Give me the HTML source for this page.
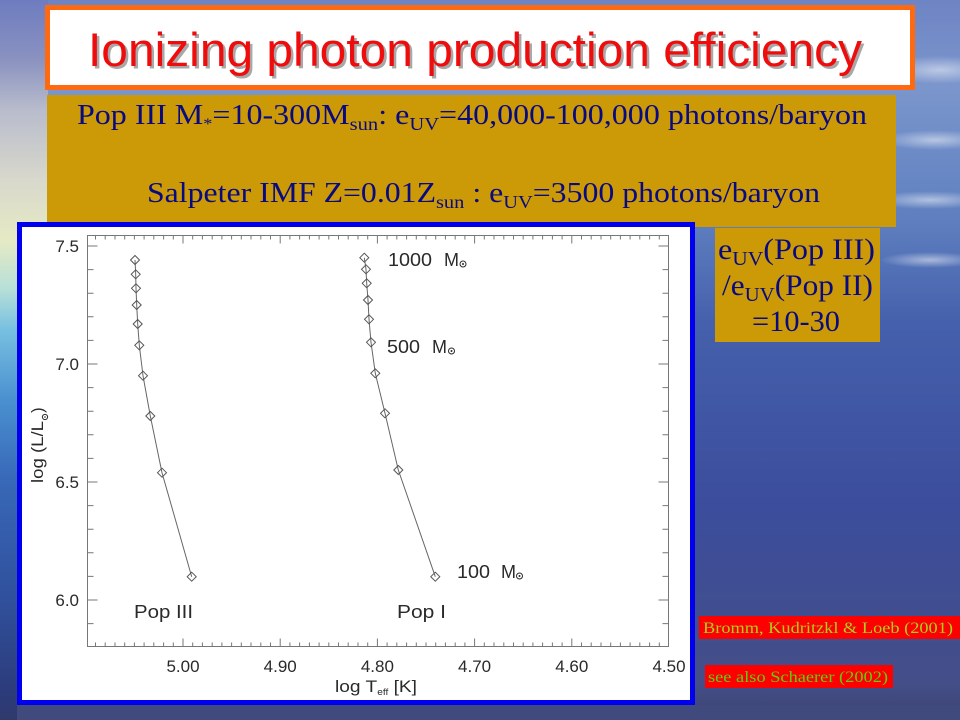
<!DOCTYPE html>
<html>
<head>
<meta charset="utf-8">
<style>
html,body{margin:0;padding:0;width:960px;height:720px;overflow:hidden;background:#4a5fa8;}
svg{display:block;}
</style>
</head>
<body>
<svg width="960" height="720" viewBox="0 0 960 720" xmlns="http://www.w3.org/2000/svg">
  <defs>
    <linearGradient id="bg" x1="0" y1="0" x2="0" y2="1">
      <stop offset="0" stop-color="#6e84c4"/>
      <stop offset="0.12" stop-color="#7b96cc"/>
      <stop offset="0.30" stop-color="#5f80c0"/>
      <stop offset="0.45" stop-color="#4560ac"/>
      <stop offset="0.70" stop-color="#3b4d9c"/>
      <stop offset="0.95" stop-color="#444e88"/>
      <stop offset="1" stop-color="#3c4470"/>
    </linearGradient>
    <linearGradient id="leftstrip" x1="0" y1="0" x2="0" y2="1">
      <stop offset="0" stop-color="#6e7cc0"/>
      <stop offset="0.083" stop-color="#8a92c0"/>
      <stop offset="0.153" stop-color="#b8bccc"/>
      <stop offset="0.25" stop-color="#d8d8cc"/>
      <stop offset="0.333" stop-color="#e6eac4"/>
      <stop offset="0.40" stop-color="#b8e0d8"/>
      <stop offset="0.458" stop-color="#78c0e0"/>
      <stop offset="0.556" stop-color="#4a90d0"/>
      <stop offset="0.667" stop-color="#3868b8"/>
      <stop offset="0.833" stop-color="#30509c"/>
      <stop offset="0.972" stop-color="#2c3a78"/>
      <stop offset="1" stop-color="#303a6a"/>
    </linearGradient>
    <radialGradient id="streak" cx="0.5" cy="0.5" r="0.5">
      <stop offset="0" stop-color="#ffffff" stop-opacity="0.5"/>
      <stop offset="1" stop-color="#ffffff" stop-opacity="0"/>
    </radialGradient>
  </defs>

  <!-- background -->
  <rect x="0" y="0" width="960" height="720" fill="url(#bg)"/>
  <rect x="0" y="0" width="48" height="720" fill="url(#leftstrip)"/>
  <ellipse cx="940" cy="70" rx="60" ry="14" fill="url(#streak)"/>
  <ellipse cx="935" cy="140" rx="55" ry="10" fill="url(#streak)"/>
  <ellipse cx="930" cy="200" rx="60" ry="9" fill="url(#streak)"/>
  <ellipse cx="930" cy="260" rx="50" ry="8" fill="url(#streak)"/>
  <rect x="17" y="705" width="943" height="15" fill="#414a7c"/>

  <!-- title box -->
  <rect x="47.5" y="7.5" width="865" height="80" fill="#ffffff" stroke="#ff6a10" stroke-width="5"/>
  <text x="90.5" y="68.5" font-family="Liberation Sans, Arial, sans-serif" font-size="47" fill="#a8a8a8" textLength="774" lengthAdjust="spacingAndGlyphs">Ionizing photon production efficiency</text>
  <text x="88" y="66" font-family="Liberation Sans, Arial, sans-serif" font-size="47" fill="#ee0c0c" textLength="774" lengthAdjust="spacingAndGlyphs">Ionizing photon production efficiency</text>

  <!-- gold box -->
  <rect x="47" y="95" width="849" height="132" fill="#cc9a06"/>
  <text x="77" y="124" font-family="Liberation Serif, Times New Roman, serif" font-size="28" fill="#0a0a80" textLength="790" lengthAdjust="spacingAndGlyphs">Pop III M<tspan font-size="16" dy="5">*</tspan><tspan dy="-5">=10-300M</tspan><tspan font-size="18" dy="6">sun</tspan><tspan dy="-6">: e</tspan><tspan font-size="18" dy="6">UV</tspan><tspan dy="-6">=40,000-100,000 photons/baryon</tspan></text>
  <text x="147" y="202" font-family="Liberation Serif, Times New Roman, serif" font-size="28" fill="#0a0a80" textLength="673" lengthAdjust="spacingAndGlyphs">Salpeter IMF Z=0.01Z<tspan font-size="18" dy="6">sun</tspan><tspan dy="-6"> : e</tspan><tspan font-size="18" dy="6">UV</tspan><tspan dy="-6">=3500 photons/baryon</tspan></text>

  <!-- right gold box -->
  <rect x="715" y="228" width="165" height="114" fill="#cc9a06"/>
  <text x="718" y="259" font-family="Liberation Serif, Times New Roman, serif" font-size="30" fill="#0a0a80" textLength="157" lengthAdjust="spacingAndGlyphs">e<tspan font-size="20" dy="6">UV</tspan><tspan dy="-6">(Pop III)</tspan></text>
  <text x="722" y="295" font-family="Liberation Serif, Times New Roman, serif" font-size="30" fill="#0a0a80" textLength="151" lengthAdjust="spacingAndGlyphs">/e<tspan font-size="20" dy="6">UV</tspan><tspan dy="-6">(Pop II)</tspan></text>
  <text x="752" y="331" font-family="Liberation Serif, Times New Roman, serif" font-size="30" fill="#0a0a80" textLength="88" lengthAdjust="spacingAndGlyphs">=10-30</text>

  <!-- red reference boxes -->
  <rect x="699" y="616" width="261" height="23" fill="#ff0000"/>
  <text x="703" y="633" font-family="Liberation Serif, Times New Roman, serif" font-size="16" fill="#a6d020" textLength="250" lengthAdjust="spacingAndGlyphs">Bromm, Kudritzkl &amp; Loeb (2001)</text>
  <rect x="705" y="665" width="188" height="23" fill="#ff0000"/>
  <text x="708" y="682" font-family="Liberation Serif, Times New Roman, serif" font-size="16" fill="#5ad010" textLength="180" lengthAdjust="spacingAndGlyphs">see also Schaerer (2002)</text>

  <!-- plot panel -->
  <rect x="19.5" y="224.5" width="673" height="478" fill="#ffffff" stroke="#0000ee" stroke-width="5"/>

  <!-- axes -->
  <rect x="87.5" y="235.5" width="581" height="411" fill="none" stroke="#777" stroke-width="1"/>
  <!-- y ticks -->
  <path stroke="#777" stroke-width="1" fill="none" d="
  M87.5 246h10M668.5 246h-10
  M87.5 269.6h6M668.5 269.6h-6
  M87.5 293.2h6M668.5 293.2h-6
  M87.5 316.8h6M668.5 316.8h-6
  M87.5 340.4h6M668.5 340.4h-6
  M87.5 364h10M668.5 364h-10
  M87.5 387.6h6M668.5 387.6h-6
  M87.5 411.2h6M668.5 411.2h-6
  M87.5 434.8h6M668.5 434.8h-6
  M87.5 458.4h6M668.5 458.4h-6
  M87.5 482h10M668.5 482h-10
  M87.5 505.6h6M668.5 505.6h-6
  M87.5 529.2h6M668.5 529.2h-6
  M87.5 552.8h6M668.5 552.8h-6
  M87.5 576.4h6M668.5 576.4h-6
  M87.5 600h10M668.5 600h-10
  M87.5 623.6h6M668.5 623.6h-6"/>
  <!-- x ticks -->
  <path stroke="#777" stroke-width="1" fill="none" d="
  M659.3 646.5v-4M659.3 235.5v4
  M649.6 646.5v-4M649.6 235.5v4
  M639.8 646.5v-4M639.8 235.5v4
  M630.1 646.5v-4M630.1 235.5v4
  M620.4 646.5v-4M620.4 235.5v4
  M610.7 646.5v-4M610.7 235.5v4
  M601 646.5v-4M601 235.5v4
  M591.2 646.5v-4M591.2 235.5v4
  M581.5 646.5v-4M581.5 235.5v4
  M571.8 646.5v-8M571.8 235.5v8
  M562.1 646.5v-4M562.1 235.5v4
  M552.4 646.5v-4M552.4 235.5v4
  M542.6 646.5v-4M542.6 235.5v4
  M532.9 646.5v-4M532.9 235.5v4
  M523.2 646.5v-4M523.2 235.5v4
  M513.5 646.5v-4M513.5 235.5v4
  M503.8 646.5v-4M503.8 235.5v4
  M494 646.5v-4M494 235.5v4
  M484.3 646.5v-4M484.3 235.5v4
  M474.6 646.5v-8M474.6 235.5v8
  M464.9 646.5v-4M464.9 235.5v4
  M455.2 646.5v-4M455.2 235.5v4
  M445.4 646.5v-4M445.4 235.5v4
  M435.7 646.5v-4M435.7 235.5v4
  M426 646.5v-4M426 235.5v4
  M416.3 646.5v-4M416.3 235.5v4
  M406.6 646.5v-4M406.6 235.5v4
  M396.8 646.5v-4M396.8 235.5v4
  M387.1 646.5v-4M387.1 235.5v4
  M377.4 646.5v-8M377.4 235.5v8
  M367.7 646.5v-4M367.7 235.5v4
  M358 646.5v-4M358 235.5v4
  M348.2 646.5v-4M348.2 235.5v4
  M338.5 646.5v-4M338.5 235.5v4
  M328.8 646.5v-4M328.8 235.5v4
  M319.1 646.5v-4M319.1 235.5v4
  M309.4 646.5v-4M309.4 235.5v4
  M299.6 646.5v-4M299.6 235.5v4
  M289.9 646.5v-4M289.9 235.5v4
  M280.2 646.5v-8M280.2 235.5v8
  M270.5 646.5v-4M270.5 235.5v4
  M260.8 646.5v-4M260.8 235.5v4
  M251 646.5v-4M251 235.5v4
  M241.3 646.5v-4M241.3 235.5v4
  M231.6 646.5v-4M231.6 235.5v4
  M221.9 646.5v-4M221.9 235.5v4
  M212.2 646.5v-4M212.2 235.5v4
  M202.4 646.5v-4M202.4 235.5v4
  M192.7 646.5v-4M192.7 235.5v4
  M183 646.5v-8M183 235.5v8
  M173.3 646.5v-4M173.3 235.5v4
  M163.6 646.5v-4M163.6 235.5v4
  M153.8 646.5v-4M153.8 235.5v4
  M144.1 646.5v-4M144.1 235.5v4
  M134.4 646.5v-4M134.4 235.5v4
  M124.7 646.5v-4M124.7 235.5v4
  M115 646.5v-4M115 235.5v4
  M105.2 646.5v-4M105.2 235.5v4
  M95.5 646.5v-4M95.5 235.5v4"/>

  <!-- tick labels -->
  <g font-family="Liberation Sans, Arial, sans-serif" font-size="17" fill="#2a2a2a">
    <text x="79" y="252" text-anchor="end">7.5</text>
    <text x="79" y="370" text-anchor="end">7.0</text>
    <text x="79" y="488" text-anchor="end">6.5</text>
    <text x="79" y="606" text-anchor="end">6.0</text>
    <text x="183" y="672" text-anchor="middle">5.00</text>
    <text x="280.2" y="672" text-anchor="middle">4.90</text>
    <text x="377.4" y="672" text-anchor="middle">4.80</text>
    <text x="474.6" y="672" text-anchor="middle">4.70</text>
    <text x="571.8" y="672" text-anchor="middle">4.60</text>
    <text x="669" y="672" text-anchor="middle">4.50</text>
  </g>

  <!-- x axis title -->
  <text x="335" y="692" font-family="Liberation Sans, Arial, sans-serif" font-size="17" fill="#2a2a2a" textLength="82" lengthAdjust="spacingAndGlyphs">log  T<tspan font-size="9" dy="3">eff</tspan><tspan dy="-3"> [K]</tspan></text>

  <!-- y axis title -->
  <g transform="translate(43,442) rotate(-90)" fill="#2a2a2a" font-family="Liberation Sans, Arial, sans-serif" font-size="17">
    <text x="-41" y="0" textLength="62" lengthAdjust="spacingAndGlyphs">log  (L/L</text>
    <circle cx="25" cy="2" r="2.6" fill="none" stroke="#2a2a2a" stroke-width="1"/>
    <circle cx="25" cy="2" r="0.8" fill="#2a2a2a"/>
    <text x="29" y="0">)</text>
  </g>

  <!-- series lines -->
  <polyline fill="none" stroke="#666" stroke-width="1" points="135,260 135.7,274.3 136,288.3 136.7,305 137.7,324 139.3,345.3 143,375.7 150.3,416 162,472.7 191.7,576.7"/>
  <polyline fill="none" stroke="#666" stroke-width="1" points="364.3,257.7 366,269.3 366.7,283.3 368,300 369,319.3 371,342.3 375.3,373.3 385,413.3 398.3,470 435.3,576.7"/>

  <!-- markers -->
  <path fill="none" stroke="#555" stroke-width="1" d="
  M135 255.5l4.5 4.5l-4.5 4.5l-4.5 -4.5z
  M135.7 269.8l4.5 4.5l-4.5 4.5l-4.5 -4.5z
  M136 283.8l4.5 4.5l-4.5 4.5l-4.5 -4.5z
  M136.7 300.5l4.5 4.5l-4.5 4.5l-4.5 -4.5z
  M137.7 319.5l4.5 4.5l-4.5 4.5l-4.5 -4.5z
  M139.3 340.8l4.5 4.5l-4.5 4.5l-4.5 -4.5z
  M143 371.2l4.5 4.5l-4.5 4.5l-4.5 -4.5z
  M150.3 411.5l4.5 4.5l-4.5 4.5l-4.5 -4.5z
  M162 468.2l4.5 4.5l-4.5 4.5l-4.5 -4.5z
  M191.7 572.2l4.5 4.5l-4.5 4.5l-4.5 -4.5z
  M364.3 253.2l4.5 4.5l-4.5 4.5l-4.5 -4.5z
  M366 264.8l4.5 4.5l-4.5 4.5l-4.5 -4.5z
  M366.7 278.8l4.5 4.5l-4.5 4.5l-4.5 -4.5z
  M368 295.5l4.5 4.5l-4.5 4.5l-4.5 -4.5z
  M369 314.8l4.5 4.5l-4.5 4.5l-4.5 -4.5z
  M371 337.8l4.5 4.5l-4.5 4.5l-4.5 -4.5z
  M375.3 368.8l4.5 4.5l-4.5 4.5l-4.5 -4.5z
  M385 408.8l4.5 4.5l-4.5 4.5l-4.5 -4.5z
  M398.3 465.5l4.5 4.5l-4.5 4.5l-4.5 -4.5z
  M435.3 572.2l4.5 4.5l-4.5 4.5l-4.5 -4.5z"/>

  <!-- annotations -->
  <g font-family="Liberation Sans, Arial, sans-serif" font-size="18" fill="#2a2a2a">
    <text x="388" y="266" textLength="44" lengthAdjust="spacingAndGlyphs">1000</text>
    <text x="444" y="266">M</text>
    <text x="387" y="353" textLength="33" lengthAdjust="spacingAndGlyphs">500</text>
    <text x="432" y="353">M</text>
    <text x="457" y="578" textLength="33" lengthAdjust="spacingAndGlyphs">100</text>
    <text x="501" y="578">M</text>
    <text x="134" y="618" textLength="59" lengthAdjust="spacingAndGlyphs">Pop  III</text>
    <text x="397" y="618" textLength="49" lengthAdjust="spacingAndGlyphs">Pop  I</text>
  </g>
  <g fill="none" stroke="#2a2a2a" stroke-width="1">
    <circle cx="463" cy="264" r="3"/>
    <circle cx="451.5" cy="351" r="3"/>
    <circle cx="519.5" cy="576" r="3"/>
  </g>
  <g fill="#2a2a2a">
    <circle cx="463" cy="264" r="1"/>
    <circle cx="451.5" cy="351" r="1"/>
    <circle cx="519.5" cy="576" r="1"/>
  </g>
</svg>
</body>
</html>
